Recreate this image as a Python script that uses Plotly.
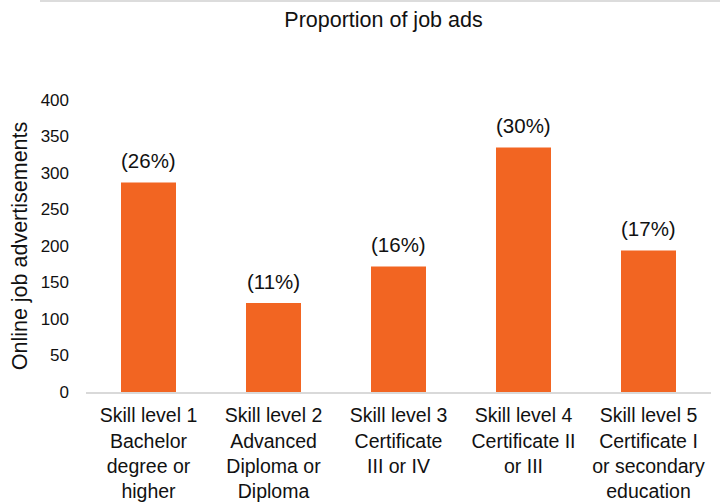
import plotly.graph_objects as go

categories = [
    "Skill level 1<br>Bachelor<br>degree or<br>higher",
    "Skill level 2<br>Advanced<br>Diploma or<br>Diploma",
    "Skill level 3<br>Certificate<br>III or IV",
    "Skill level 4<br>Certificate II<br>or III",
    "Skill level 5<br>Certificate I<br>or secondary<br>education",
]
job_ads = [287, 122, 172, 335, 194]
share_labels = ["(26%)", "(11%)", "(16%)", "(30%)", "(17%)"]
y_ticks = [0, 50, 100, 150, 200, 250, 300, 350, 400]

FONT = "Liberation Sans, Arial, sans-serif"
TXT = "#111111"
ORANGE = "#F26522"

fig = go.Figure()
fig.add_trace(go.Bar(
    x=categories, y=job_ads,
    marker=dict(color=ORANGE, line=dict(width=0)),
    hoverinfo="skip",
))

for c, v, t in zip(categories, job_ads, share_labels):
    fig.add_annotation(x=c, y=v, text=t, showarrow=False, yanchor="bottom",
                       yshift=8, font=dict(family=FONT, size=20.5, color=TXT))

# thin grey rule along the very top of the image
fig.add_shape(type="line", xref="paper", yref="paper",
              x0=(40 - 86) / 625, x1=(720 - 86) / 625,
              y0=(392 - 1) / 292, y1=(392 - 1) / 292,
              line=dict(color="#d0d0d0", width=1.5))

fig.update_layout(
    width=720, height=503,
    margin=dict(l=86, r=9, t=100, b=111, autoexpand=False),
    paper_bgcolor="white", plot_bgcolor="white",
    bargap=0.56,
    showlegend=False,
    font=dict(family=FONT, color=TXT),
    title=dict(text="Proportion of job ads", x=383.5 / 720, xanchor="center",
               y=1 - 19 / 503, yanchor="middle",
               font=dict(family=FONT, size=21.5, color=TXT)),
    xaxis=dict(
        automargin=False,
        showgrid=False, showline=True, linecolor="#d9d9d9", linewidth=1.5,
        ticks="", tickfont=dict(family=FONT, size=19.5, color=TXT),
        ticklabelstandoff=5,
    ),
    yaxis=dict(
        automargin=False,
        range=[0, 400], tickvals=y_ticks, showgrid=False, showline=False,
        zeroline=False, ticks="",
        tickfont=dict(family=FONT, size=17, color=TXT),
        ticklabelstandoff=16,
        title=dict(text="Online job advertisements", standoff=7,
                   font=dict(family=FONT, size=21.5, color=TXT)),
    ),
)

fig.write_html("out.html",
               config={"displayModeBar": False},
               post_script="document.body.style.margin='0';document.body.style.overflow='hidden';")
